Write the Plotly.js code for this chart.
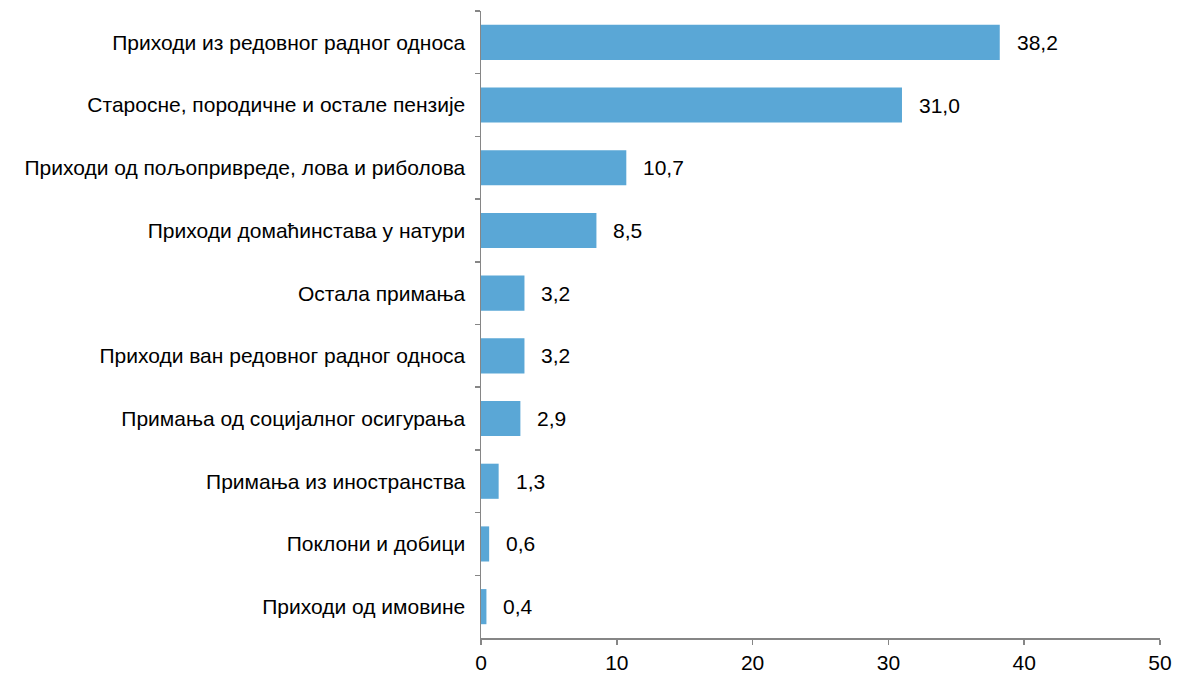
<!DOCTYPE html>
<html>
<head>
<meta charset="utf-8">
<script src="https://cdn.plot.ly/plotly-3.0.1.min.js"></script>
<style>html,body{margin:0;padding:0;background:#fff;}#chart{width:1184px;height:673px;}</style>
</head>
<body>
<div id="chart"></div>
<script>
const categories = [
  "Приходи из редовног радног односа",
  "Старосне, породичне и остале пензије",
  "Приходи од пољопривреде, лова и риболова",
  "Приходи домаћинстава у натури",
  "Остала примања",
  "Приходи ван редовног радног односа",
  "Примања од социјалног осигурања",
  "Примања из иностранства",
  "Поклони и добици",
  "Приходи од имовине"
];
const values = [38.2, 31.0, 10.7, 8.5, 3.2, 3.2, 2.9, 1.3, 0.6, 0.4];
const xTicks = [0, 10, 20, 30, 40, 50];

const fontFam = "Liberation Sans, Arial, sans-serif";
const axisColor = "#868686";
const fs = 21;

const trace = {
  type: "bar",
  orientation: "h",
  y: categories,
  x: values,
  marker: {color: "#5aa7d6"},
  hoverinfo: "skip"
};

const annotations = values.map((v, i) => ({
  x: v, y: categories[i], xref: "x", yref: "y",
  text: v.toFixed(1).replace(".", ","),
  showarrow: false, xanchor: "left", xshift: 15,
  font: {family: fontFam, size: fs, color: "#000"}
}));

const layout = {
  width: 1184, height: 673,
  margin: {l: 481, r: 24, t: 11, b: 35},
  paper_bgcolor: "#fff", plot_bgcolor: "#fff",
  showlegend: false,
  bargap: 0.44,
  font: {family: fontFam, size: fs, color: "#000"},
  xaxis: {
    range: [0, 50], tickvals: xTicks, ticktext: xTicks.map(String),
    showgrid: false, zeroline: false, showline: true, linecolor: axisColor, linewidth: 1.5,
    ticks: "outside", ticklen: 5, tickcolor: axisColor, tickwidth: 1.5,
    tickfont: {family: fontFam, size: fs, color: "#000"}, fixedrange: true
  },
  yaxis: {
    type: "category", categoryorder: "array", categoryarray: categories,
    autorange: "reversed",
    showgrid: false, zeroline: false, showline: true, linecolor: axisColor, linewidth: 1.5,
    ticks: "outside", tickson: "boundaries", ticklen: 5, tickcolor: axisColor, tickwidth: 1.5,
    ticklabelstandoff: 10,
    tickfont: {family: fontFam, size: fs, color: "#000"}, fixedrange: true
  },
  annotations: annotations
};

Plotly.newPlot("chart", [trace], layout, {displayModeBar: false, staticPlot: true});
</script>
</body>
</html>
